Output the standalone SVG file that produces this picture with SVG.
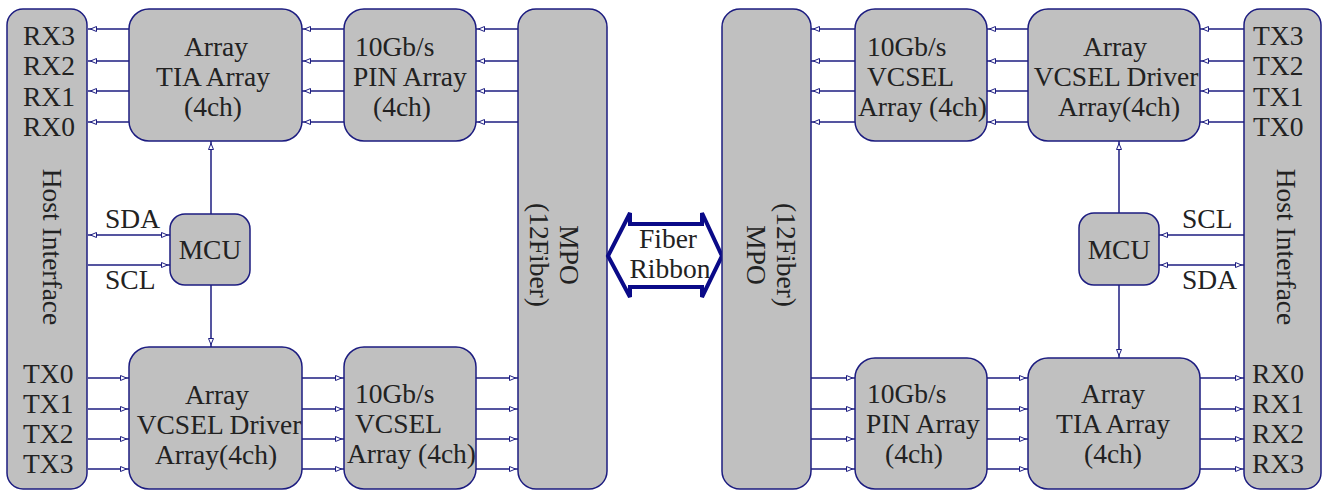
<svg xmlns="http://www.w3.org/2000/svg" width="1326" height="491" viewBox="0 0 1326 491">
<style>
.blk{fill:#c0c0c0;stroke:#1c1c80;stroke-width:1.5}
.t{font-family:"Liberation Serif","Times New Roman",serif;font-size:27.5px;fill:#222}
.m{text-anchor:middle}
.c line{stroke:#1c1c80;stroke-width:1.5;marker-end:url(#ah)}
.c line.bi{marker-start:url(#ah)}
</style>
<defs>
<marker id="ah" markerUnits="userSpaceOnUse" markerWidth="12" markerHeight="8" refX="9" refY="3" orient="auto-start-reverse">
<path d="M0.5,0.5 L6.5,3 L0.5,5.5 z" fill="#fff" stroke="#1c1c80" stroke-width="1"/>
</marker>
</defs>
<rect width="1326" height="491" fill="#fff"/>

<g class="c" id="connectors">
<line x1="129" y1="29" x2="88" y2="29"/><line x1="129" y1="61" x2="88" y2="61"/><line x1="129" y1="91" x2="88" y2="91"/><line x1="129" y1="122" x2="88" y2="122"/>
<line x1="344" y1="29" x2="302" y2="29"/><line x1="344" y1="61" x2="302" y2="61"/><line x1="344" y1="91" x2="302" y2="91"/><line x1="344" y1="122" x2="302" y2="122"/>
<line x1="518" y1="29" x2="476" y2="29"/><line x1="518" y1="61" x2="476" y2="61"/><line x1="518" y1="91" x2="476" y2="91"/><line x1="518" y1="122" x2="476" y2="122"/>
<line x1="211" y1="214" x2="211" y2="141"/>
<line class="bi" x1="88" y1="235" x2="170" y2="235"/>
<line x1="88" y1="265" x2="170" y2="265"/>
<line x1="211" y1="285" x2="211" y2="347"/>
<line x1="88" y1="378" x2="129" y2="378"/><line x1="88" y1="409" x2="129" y2="409"/><line x1="88" y1="439" x2="129" y2="439"/><line x1="88" y1="469" x2="129" y2="469"/>
<line x1="302" y1="378" x2="344" y2="378"/><line x1="302" y1="409" x2="344" y2="409"/><line x1="302" y1="439" x2="344" y2="439"/><line x1="302" y1="469" x2="344" y2="469"/>
<line x1="476" y1="378" x2="518" y2="378"/><line x1="476" y1="409" x2="518" y2="409"/><line x1="476" y1="439" x2="518" y2="439"/><line x1="476" y1="469" x2="518" y2="469"/>

<line x1="855" y1="29" x2="811" y2="29"/><line x1="855" y1="61" x2="811" y2="61"/><line x1="855" y1="91" x2="811" y2="91"/><line x1="855" y1="122" x2="811" y2="122"/>
<line x1="1028" y1="29" x2="987" y2="29"/><line x1="1028" y1="61" x2="987" y2="61"/><line x1="1028" y1="91" x2="987" y2="91"/><line x1="1028" y1="122" x2="987" y2="122"/>
<line x1="1244" y1="29" x2="1200" y2="29"/><line x1="1244" y1="61" x2="1200" y2="61"/><line x1="1244" y1="91" x2="1200" y2="91"/><line x1="1244" y1="122" x2="1200" y2="122"/>
<line x1="1119" y1="213" x2="1119" y2="141"/>
<line x1="1244" y1="235" x2="1159" y2="235"/>
<line class="bi" x1="1159" y1="265" x2="1244" y2="265"/>
<line x1="1119" y1="285" x2="1119" y2="358"/>
<line x1="811" y1="378" x2="855" y2="378"/><line x1="811" y1="409" x2="855" y2="409"/><line x1="811" y1="439" x2="855" y2="439"/><line x1="811" y1="469" x2="855" y2="469"/>
<line x1="987" y1="378" x2="1028" y2="378"/><line x1="987" y1="409" x2="1028" y2="409"/><line x1="987" y1="439" x2="1028" y2="439"/><line x1="987" y1="469" x2="1028" y2="469"/>
<line x1="1200" y1="378" x2="1244" y2="378"/><line x1="1200" y1="409" x2="1244" y2="409"/><line x1="1200" y1="439" x2="1244" y2="439"/><line x1="1200" y1="469" x2="1244" y2="469"/>
</g>

<g id="hostL">
<rect class="blk" x="7" y="9" width="80" height="480" rx="16"/>
<text class="t" x="23" y="45">RX3</text><text class="t" x="23" y="75">RX2</text><text class="t" x="23" y="106">RX1</text><text class="t" x="23" y="136">RX0</text>
<text class="t m" transform="translate(43,247) rotate(90)">Host Interface</text>
<text class="t" x="23" y="383">TX0</text><text class="t" x="23" y="413">TX1</text><text class="t" x="23" y="443">TX2</text><text class="t" x="23" y="473">TX3</text>
</g>
<g id="tiaL">
<rect class="blk" x="129" y="9" width="173" height="132" rx="20"/>
<text class="t m" x="216" y="56">Array</text><text class="t m" x="213" y="86">TIA Array</text><text class="t m" x="213" y="116">(4ch)</text>
</g>
<g id="pinL">
<rect class="blk" x="344" y="9" width="132" height="132" rx="20"/>
<text class="t" x="355" y="56">10Gb/s</text><text class="t" x="353" y="86">PIN Array</text><text class="t" x="373" y="116">(4ch)</text>
</g>
<g id="mpoL">
<rect class="blk" x="518" y="9" width="89" height="480" rx="18"/>
<text class="t m" transform="translate(560,255) rotate(90)"><tspan x="0" y="0">MPO</tspan><tspan x="0" y="30">(12Fiber)</tspan></text>
</g>
<g id="mcuL">
<rect class="blk" x="170" y="214" width="80" height="71" rx="15"/>
<text class="t m" x="210" y="259">MCU</text>
</g>
<text class="t" x="105" y="228">SDA</text>
<text class="t" x="105" y="289">SCL</text>
<g id="drvL">
<rect class="blk" x="129" y="347" width="173" height="142" rx="20"/>
<text class="t m" x="217" y="404">Array</text><text class="t m" x="219" y="434">VCSEL Driver</text><text class="t m" x="216" y="464">Array(4ch)</text>
</g>
<g id="vcselL">
<rect class="blk" x="344" y="347" width="132" height="142" rx="20"/>
<text class="t" x="355" y="403">10Gb/s</text><text class="t" x="355" y="433">VCSEL</text><text class="t" x="347" y="463">Array (4ch)</text>
</g>

<g id="fiber">
<path d="M608,256 L630,213 L630,224 L702,224 L702,213 L722,256 L702,297 L702,287 L630,287 L630,297 Z" fill="#fff" stroke="#0a0a88" stroke-width="4" stroke-linejoin="miter"/>
<text class="t m" x="668" y="248">Fiber</text><text class="t m" x="670" y="278">Ribbon</text>
</g>

<g id="mpoR">
<rect class="blk" x="722" y="9" width="89" height="480" rx="18"/>
<text class="t m" transform="translate(777,255) rotate(90)"><tspan x="0" y="0">(12Fiber)</tspan><tspan x="0" y="30">MPO</tspan></text>
</g>
<g id="vcselR">
<rect class="blk" x="855" y="9" width="132" height="132" rx="20"/>
<text class="t" x="867" y="56">10Gb/s</text><text class="t" x="867" y="86">VCSEL</text><text class="t" x="858" y="116">Array (4ch)</text>
</g>
<g id="drvR">
<rect class="blk" x="1028" y="9" width="172" height="132" rx="20"/>
<text class="t m" x="1115" y="56">Array</text><text class="t m" x="1116" y="86">VCSEL Driver</text><text class="t m" x="1119" y="116">Array(4ch)</text>
</g>
<g id="hostR">
<rect class="blk" x="1244" y="9" width="77" height="480" rx="16"/>
<text class="t" x="1253" y="45">TX3</text><text class="t" x="1253" y="75">TX2</text><text class="t" x="1253" y="106">TX1</text><text class="t" x="1253" y="136">TX0</text>
<text class="t m" transform="translate(1277,247) rotate(90)">Host Interface</text>
<text class="t" x="1252" y="383">RX0</text><text class="t" x="1252" y="413">RX1</text><text class="t" x="1252" y="443">RX2</text><text class="t" x="1252" y="473">RX3</text>
</g>
<g id="mcuR">
<rect class="blk" x="1079" y="213" width="80" height="72" rx="15"/>
<text class="t m" x="1119" y="259">MCU</text>
</g>
<text class="t" x="1182" y="228">SCL</text>
<text class="t" x="1182" y="289">SDA</text>
<g id="pinR">
<rect class="blk" x="855" y="358" width="132" height="131" rx="20"/>
<text class="t" x="867" y="403">10Gb/s</text><text class="t" x="866" y="433">PIN Array</text><text class="t" x="885" y="463">(4ch)</text>
</g>
<g id="tiaR">
<rect class="blk" x="1028" y="358" width="172" height="131" rx="20"/>
<text class="t m" x="1113" y="403">Array</text><text class="t m" x="1113" y="433">TIA Array</text><text class="t m" x="1113" y="463">(4ch)</text>
</g>
</svg>
